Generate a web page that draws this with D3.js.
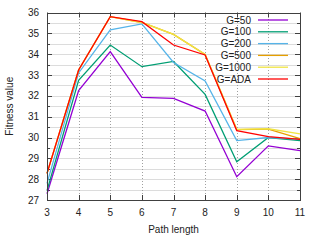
<!DOCTYPE html>
<html>
<head>
<meta charset="utf-8">
<script src="https://cdn.jsdelivr.net/npm/d3@7"></script>
<style>
  html, body { margin: 0; padding: 0; background: #fff; }
  svg { display: block; font-family: "Liberation Sans", Arial, sans-serif; }
</style>
</head>
<body>
<svg id="chart" width="320" height="240"></svg>
<script>
// data
const pathLengths = [3, 4, 5, 6, 7, 8, 9, 10, 11];
const seriesNames = ["G=50", "G=100", "G=200", "G=500", "G=1000", "G=ADA"];
const seriesColors = ["#9400d3", "#009e73", "#56b4e9", "#e69f00", "#f0e442", "#ff0000"];
const g50   = [27.3, 32.25, 34.12, 31.93, 31.88, 31.27, 28.12, 29.6, 29.37];
const g100  = [27.45, 32.75, 34.44, 33.4, 33.65, 32.07, 28.84, 30.0, 29.85];
const g200  = [27.8, 33.1, 35.17, 35.45, 33.6, 32.71, 29.85, 30.0, 29.92];
const g500  = [28.28, 33.24, 35.8, 35.52, 34.95, 33.99, 30.38, 30.4, 29.95];
const g1000 = [28.28, 33.24, 35.8, 35.52, 34.95, 33.99, 30.39, 30.42, 30.17];
const gAda  = [28.28, 33.24, 35.8, 35.56, 34.44, 33.96, 30.33, 30.04, 29.91];
const seriesValues = [g50, g100, g200, g500, g1000, gAda];
const yTicks = [27, 28, 29, 30, 31, 32, 33, 34, 35, 36];

const margin = { left: 47, right: 20, top: 12.5, bottom: 40 };
const W = 320, H = 240;

const svg = d3.select("#chart");
const x = d3.scaleLinear().domain([3, 11]).range([margin.left, W - margin.right]);
const y = d3.scaleLinear().domain([27, 36]).range([H - margin.bottom, margin.top]);

// horizontal grid, every half unit
const minorY = d3.range(27, 36.01, 0.5);
svg.append("g").selectAll("line").data(minorY).join("line")
  .attr("x1", x(3)).attr("x2", x(11))
  .attr("y1", d => Math.round(y(d)) + 0.5).attr("y2", d => Math.round(y(d)) + 0.5)
  .attr("stroke", "#dcdcdc").attr("stroke-width", 1);

// vertical grid, dotted
svg.append("g").selectAll("line").data(pathLengths.slice(1, -1)).join("line")
  .attr("x1", d => Math.round(x(d)) + 0.5).attr("x2", d => Math.round(x(d)) + 0.5)
  .attr("y1", y(27)).attr("y2", y(36))
  .attr("stroke", "#a0a0a0").attr("stroke-width", 1).attr("stroke-dasharray", "1,2");

// tick marks (inward), left/right and bottom/top
const tk = svg.append("g").attr("stroke", "#404040").attr("stroke-width", 1);
minorY.forEach(d => {
  const len = Number.isInteger(d) ? 5 : 3;
  const yy = Math.round(y(d)) + 0.5;
  tk.append("line").attr("x1", x(3)).attr("x2", x(3) + len).attr("y1", yy).attr("y2", yy);
  tk.append("line").attr("x1", x(11)).attr("x2", x(11) - len).attr("y1", yy).attr("y2", yy);
});
pathLengths.forEach(d => {
  const xx = Math.round(x(d)) + 0.5;
  tk.append("line").attr("x1", xx).attr("x2", xx).attr("y1", y(27)).attr("y2", y(27) - 5);
  tk.append("line").attr("x1", xx).attr("x2", xx).attr("y1", y(36)).attr("y2", y(36) + 5);
});

// lines
const line = d3.line().x((d, i) => x(pathLengths[i])).y(d => y(d));
seriesValues.forEach((vals, i) => {
  svg.append("path").datum(vals)
    .attr("d", line)
    .attr("fill", "none")
    .attr("stroke", seriesColors[i])
    .attr("stroke-width", 1.3);
});

// frame
svg.append("rect")
  .attr("x", Math.round(x(3)) + 0.5).attr("y", Math.round(y(36)) + 0.5)
  .attr("width", Math.round(x(11)) - Math.round(x(3)))
  .attr("height", Math.round(y(27)) - Math.round(y(36)))
  .attr("fill", "none").attr("stroke", "#404040").attr("stroke-width", 1);

// tick labels
svg.append("g").selectAll("text").data(yTicks).join("text")
  .attr("x", x(3) - 8).attr("y", d => y(d) + 3.5)
  .attr("text-anchor", "end").attr("font-size", 10).attr("fill", "#222")
  .text(d => d);
svg.append("g").selectAll("text").data(pathLengths).join("text")
  .attr("x", d => x(d)).attr("y", y(27) + 16)
  .attr("text-anchor", "middle").attr("font-size", 10).attr("fill", "#222")
  .text(d => d);

// axis titles
svg.append("text").attr("x", (x(3) + x(11)) / 2).attr("y", 233)
  .attr("text-anchor", "middle").attr("font-size", 10).attr("fill", "#222")
  .text("Path length");
svg.append("text")
  .attr("transform", `translate(13,${(y(27) + y(36)) / 2}) rotate(-90)`)
  .attr("text-anchor", "middle").attr("font-size", 10).attr("fill", "#222")
  .text("Fitness value");

// legend
const leg = svg.append("g");
seriesNames.forEach((name, i) => {
  const ly = 20 + i * 11.8;
  leg.append("text").attr("x", 251).attr("y", ly + 3.5)
    .attr("text-anchor", "end").attr("font-size", 10).attr("fill", "#222")
    .text(name);
  leg.append("line").attr("x1", 258).attr("x2", 288).attr("y1", ly).attr("y2", ly)
    .attr("stroke", seriesColors[i]).attr("stroke-width", 1.3);
});
</script>
</body>
</html>
